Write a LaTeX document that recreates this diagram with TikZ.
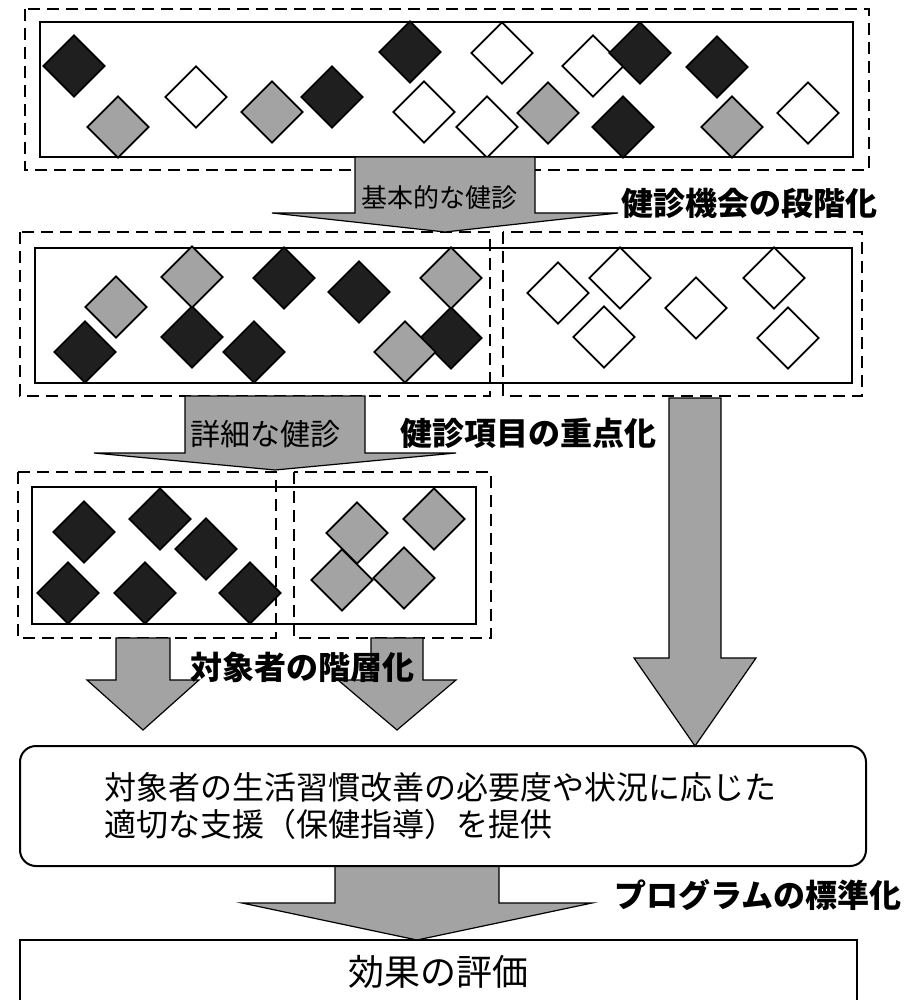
\documentclass[tikz,border=0pt]{standalone}
\usepackage{fontspec}
\setmainfont{Noto Sans CJK JP}
\usetikzlibrary{shapes.geometric,positioning}

\definecolor{dither}{gray}{0.64}
\definecolor{ink}{gray}{0.12}

% block arrow: centre x, top, head base, tip, shaft half width, head half width
\newcommand{\fatarrow}[6]{%
  \draw[fatarr] (#1-#5,#2) -- (#1+#5,#2) -- (#1+#5,#3) -- (#1+#6,#3)
    -- (#1,#4) -- (#1-#6,#3) -- (#1-#5,#3) -- cycle;}

\begin{document}
\begin{tikzpicture}[x=0.5pt, y=-0.5pt, semithick,
  dia/.style={diamond, draw, line width=0.9pt, minimum size=31pt, inner sep=0pt},
  frame/.style={draw, line width=1pt},
  dashframe/.style={draw, line width=1.2pt, dash pattern=on 6pt off 3.5pt},
  fatarr/.style={draw, fill=dither, line width=0.6pt},
  lab/.style={font=\bfseries\fontsize{16}{16}\selectfont, inner sep=0pt},
  roundbox/.style={draw, line width=1pt, rounded corners=8pt, inner sep=0pt}]
  \useasboundingbox (0,0) rectangle (911,1000);

  % frames
  \draw[dashframe] (25,9) rectangle (869,170);
  \draw[frame] (40,22) rectangle (853,157);
  \draw[dashframe] (20,232) rectangle (490,396);
  \draw[dashframe] (503,232) rectangle (862,396);
  \draw[frame] (35,248) rectangle (852,383);
  \draw[dashframe] (18,472) rectangle (276,638);
  \draw[dashframe] (294,472) rectangle (491,638);
  \draw[frame] (32,487) rectangle (476,624);

  % diamonds
  \foreach \x/\y [count=\i] in {196/97, 502/53, 424/112, 487/127, 593/66, 808/113,
      558/293, 620/278, 604/337, 696/308, 774/278, 788/338}
    \node[dia, fill=white] (w\i) at (\x,\y) {};
  \foreach \x/\y [count=\i] in {74/66, 332/97, 410/52, 640/53, 623/127, 717/67,
      85/352, 192/337, 254/352, 284/278, 359/292, 451/338,
      84/532, 160/519, 206/549, 68/593, 145/593, 250/593}
    \node[dia, fill=ink] (b\i) at (\x,\y) {};
  \foreach \x/\y [count=\i] in {118/127, 272/112, 548/113, 732/127,
      116/307, 192/277, 451/278, 405/352,
      357/533, 434/519, 342/580, 404/578}
    \node[dia, fill=dither] (g\i) at (\x,\y) {};

  % arrows
  \fatarrow{445}{157}{213}{232}{90}{173}
  \fatarrow{275}{396}{453}{470}{90}{181}
  \fatarrow{695}{398}{658}{746}{26}{61}
  \fatarrow{143}{638}{680}{730}{27}{56}
  \fatarrow{397}{638}{680}{730}{26}{59}
  \fatarrow{417}{866}{903}{940}{82}{175}

  \node[inner sep=0pt, font=\fontsize{13}{13}\selectfont] (basic) at (439,198) {基本的な健診};
  \node[inner sep=0pt, font=\fontsize{15}{15}\selectfont] (detail) at (265,434) {詳細な健診};

  \node[lab] (stage) at (749,203) {健診機会の段階化};
  \node[lab] (focus) at (528,433) {健診項目の重点化};
  \node[lab] (layer) at (302,667) {対象者の階層化};
  \node[lab] (prog) at (758,895) {プログラムの標準化};

  \node[roundbox, minimum width=423pt, minimum height=60pt, text width=339pt,
    align=left, font=\fontsize{16}{18.5}\selectfont] (support) at (443,806)
    {対象者の生活習慣改善の必要度や状況に応じた\\適切な支援（保健指導）を提供};
  \node[draw, line width=1pt, minimum width=418.5pt, minimum height=32pt,
    font=\fontsize{18}{18}\selectfont] (eval) at (438.5,972) {効果の評価};
\end{tikzpicture}
\end{document}
